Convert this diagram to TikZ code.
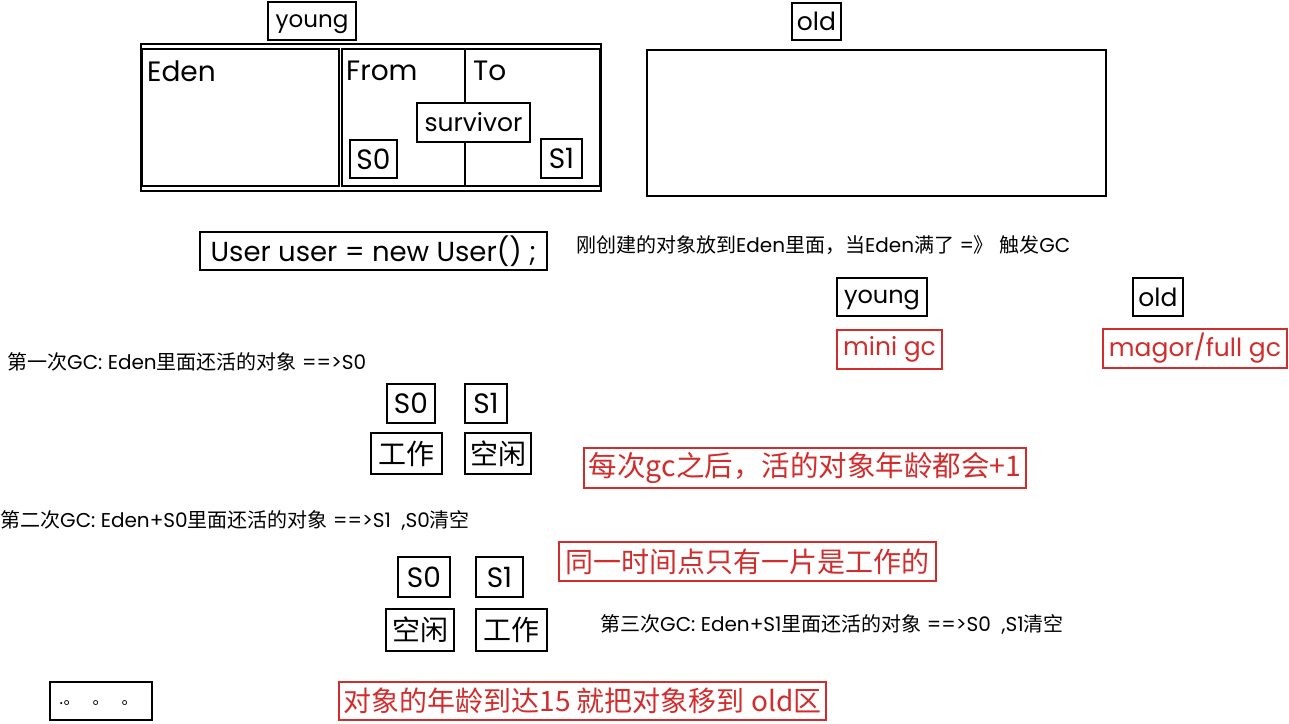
\documentclass[tikz,border=0pt]{standalone}
\usepackage{fontspec}
\setmainfont{Poppins}
\newfontfamily\cjk{Noto Sans CJK SC}
\newcommand{\zz}[1]{{\cjk #1}}
\definecolor{gcred}{RGB}{210,45,45}
\begin{document}
\begin{tikzpicture}[x=1pt,y=-1pt,
  bx/.style={draw,line width=1.8pt,fill=white,inner sep=0pt},
  rbx/.style={draw=gcred,line width=1.8pt,fill=white,inner sep=0pt,text=gcred},
  area/.style={draw,line width=1.8pt,anchor=north west,inner sep=0pt},
  fs/.style={font=\fontsize{#1}{#1}\selectfont},
  zh/.style={font=\cjk\fontsize{#1}{#1}\selectfont},
  note/.style={font=\fontsize{20}{22}\selectfont,anchor=west,inner sep=0pt}]
\useasboundingbox (0,0) rectangle (1289,723);

% young generation
\node[area,minimum width=460,minimum height=147] (youngarea) at (140,43) {};
\node[area,minimum width=197,minimum height=137] (eden) at (141,48) {};
\node[area,minimum width=258,minimum height=137] (survarea) at (341,48) {};
\coordinate (dtop) at (465,48);
\coordinate (dbot) at (465,185);
\draw[line width=1.5pt] (dtop) -- (dbot);
\node[fs=28,anchor=west,inner sep=0pt] (edent) at (147,71) {Eden};
\node[fs=28,anchor=west,inner sep=0pt] (fromt) at (346,71) {From};
\node[fs=28,anchor=west,inner sep=0pt] (tot) at (473,71) {To};
\node[bx,fs=25,minimum width=113,minimum height=39] (surv) at (473.5,122.5) {survivor};
\node[bx,fs=28,minimum width=47,minimum height=38] (s0a) at (373.5,159) {S0};
\node[bx,fs=28,minimum width=41,minimum height=39] (s1a) at (561.5,158.5) {S1};
\node[bx,fs=23,minimum width=88,minimum height=38] (young1) at (312,21) {\raisebox{-6pt}[0pt][0pt]{young}};

% old generation
\node[area,minimum width=459,minimum height=146] (oldarea) at (646,49) {};
\node[bx,fs=25,minimum width=49,minimum height=37] (old1) at (816.5,21.5) {old};

% code line
\node[bx,fs=27.5,minimum width=347,minimum height=38] (code) at (373.5,251) {User user = new User() ;};
\node[note] (n0) at (576,245) {\zz{刚创建的对象放到}Eden\zz{里面，当}Eden\zz{满了} =\zz{》} \zz{触发}GC};

% gc types
\node[bx,fs=24,minimum width=90,minimum height=38] (young2) at (882,297) {\raisebox{-6pt}[0pt][0pt]{young}};
\node[bx,fs=25,minimum width=50,minimum height=38] (old2) at (1158,297) {old};
\node[rbx,fs=25,minimum width=105,minimum height=39] (mini) at (889.5,349.5) {mini gc};
\node[rbx,fs=25,minimum width=184,minimum height=39] (full) at (1195,348.5) {magor/full gc};

% first gc
\node[note] (n1) at (7,362) {\zz{第一次}GC: Eden\zz{里面还活的对象} ==>S0};
\node[bx,fs=28,minimum width=48,minimum height=39] (s0b) at (411,403.5) {S0};
\node[bx,fs=28,minimum width=42,minimum height=39] (s1b) at (486,403.5) {S1};
\node[bx,zh=28,minimum width=71,minimum height=41] (w1) at (406.5,453.5) {工作};
\node[bx,zh=28,minimum width=66,minimum height=41] (i1) at (498,453.5) {空闲};
\node[rbx,zh=28.5,minimum width=442,minimum height=40] (r1) at (805,468) {每次gc之后，活的对象年龄都会+1};

% second gc
\node[note] (n2) at (0,520) {\zz{第二次}GC: Eden+S0\zz{里面还活的对象} ==>S1\ \ ,S0\zz{清空}};
\node[rbx,zh=28,minimum width=377,minimum height=39] (r2) at (747.5,561.5) {同一时间点只有一片是工作的};
\node[bx,fs=28,minimum width=52,minimum height=40] (s0c) at (424,577) {S0};
\node[bx,fs=28,minimum width=47,minimum height=40] (s1c) at (499.5,577) {S1};
\node[bx,zh=28,minimum width=68,minimum height=42] (i2) at (420,630) {空闲};
\node[bx,zh=28,minimum width=71,minimum height=42] (w2) at (511.5,630) {工作};

% third gc
\node[note] (n3) at (600,624) {\zz{第三次}GC: Eden+S1\zz{里面还活的对象} ==>S0\ \ ,S1\zz{清空}};

% bottom
\node[bx,minimum width=102,minimum height=38] (dots) at (101,701) {};
\node[zh=16,anchor=west,inner sep=0pt] (dotst) at (59,703) {.。\hspace{13pt}。\hspace{13pt}。};
\node[rbx,zh=28,minimum width=487,minimum height=38] (r3) at (582.5,701) {对象的年龄到达15 就把对象移到 old区};
\end{tikzpicture}
\end{document}
